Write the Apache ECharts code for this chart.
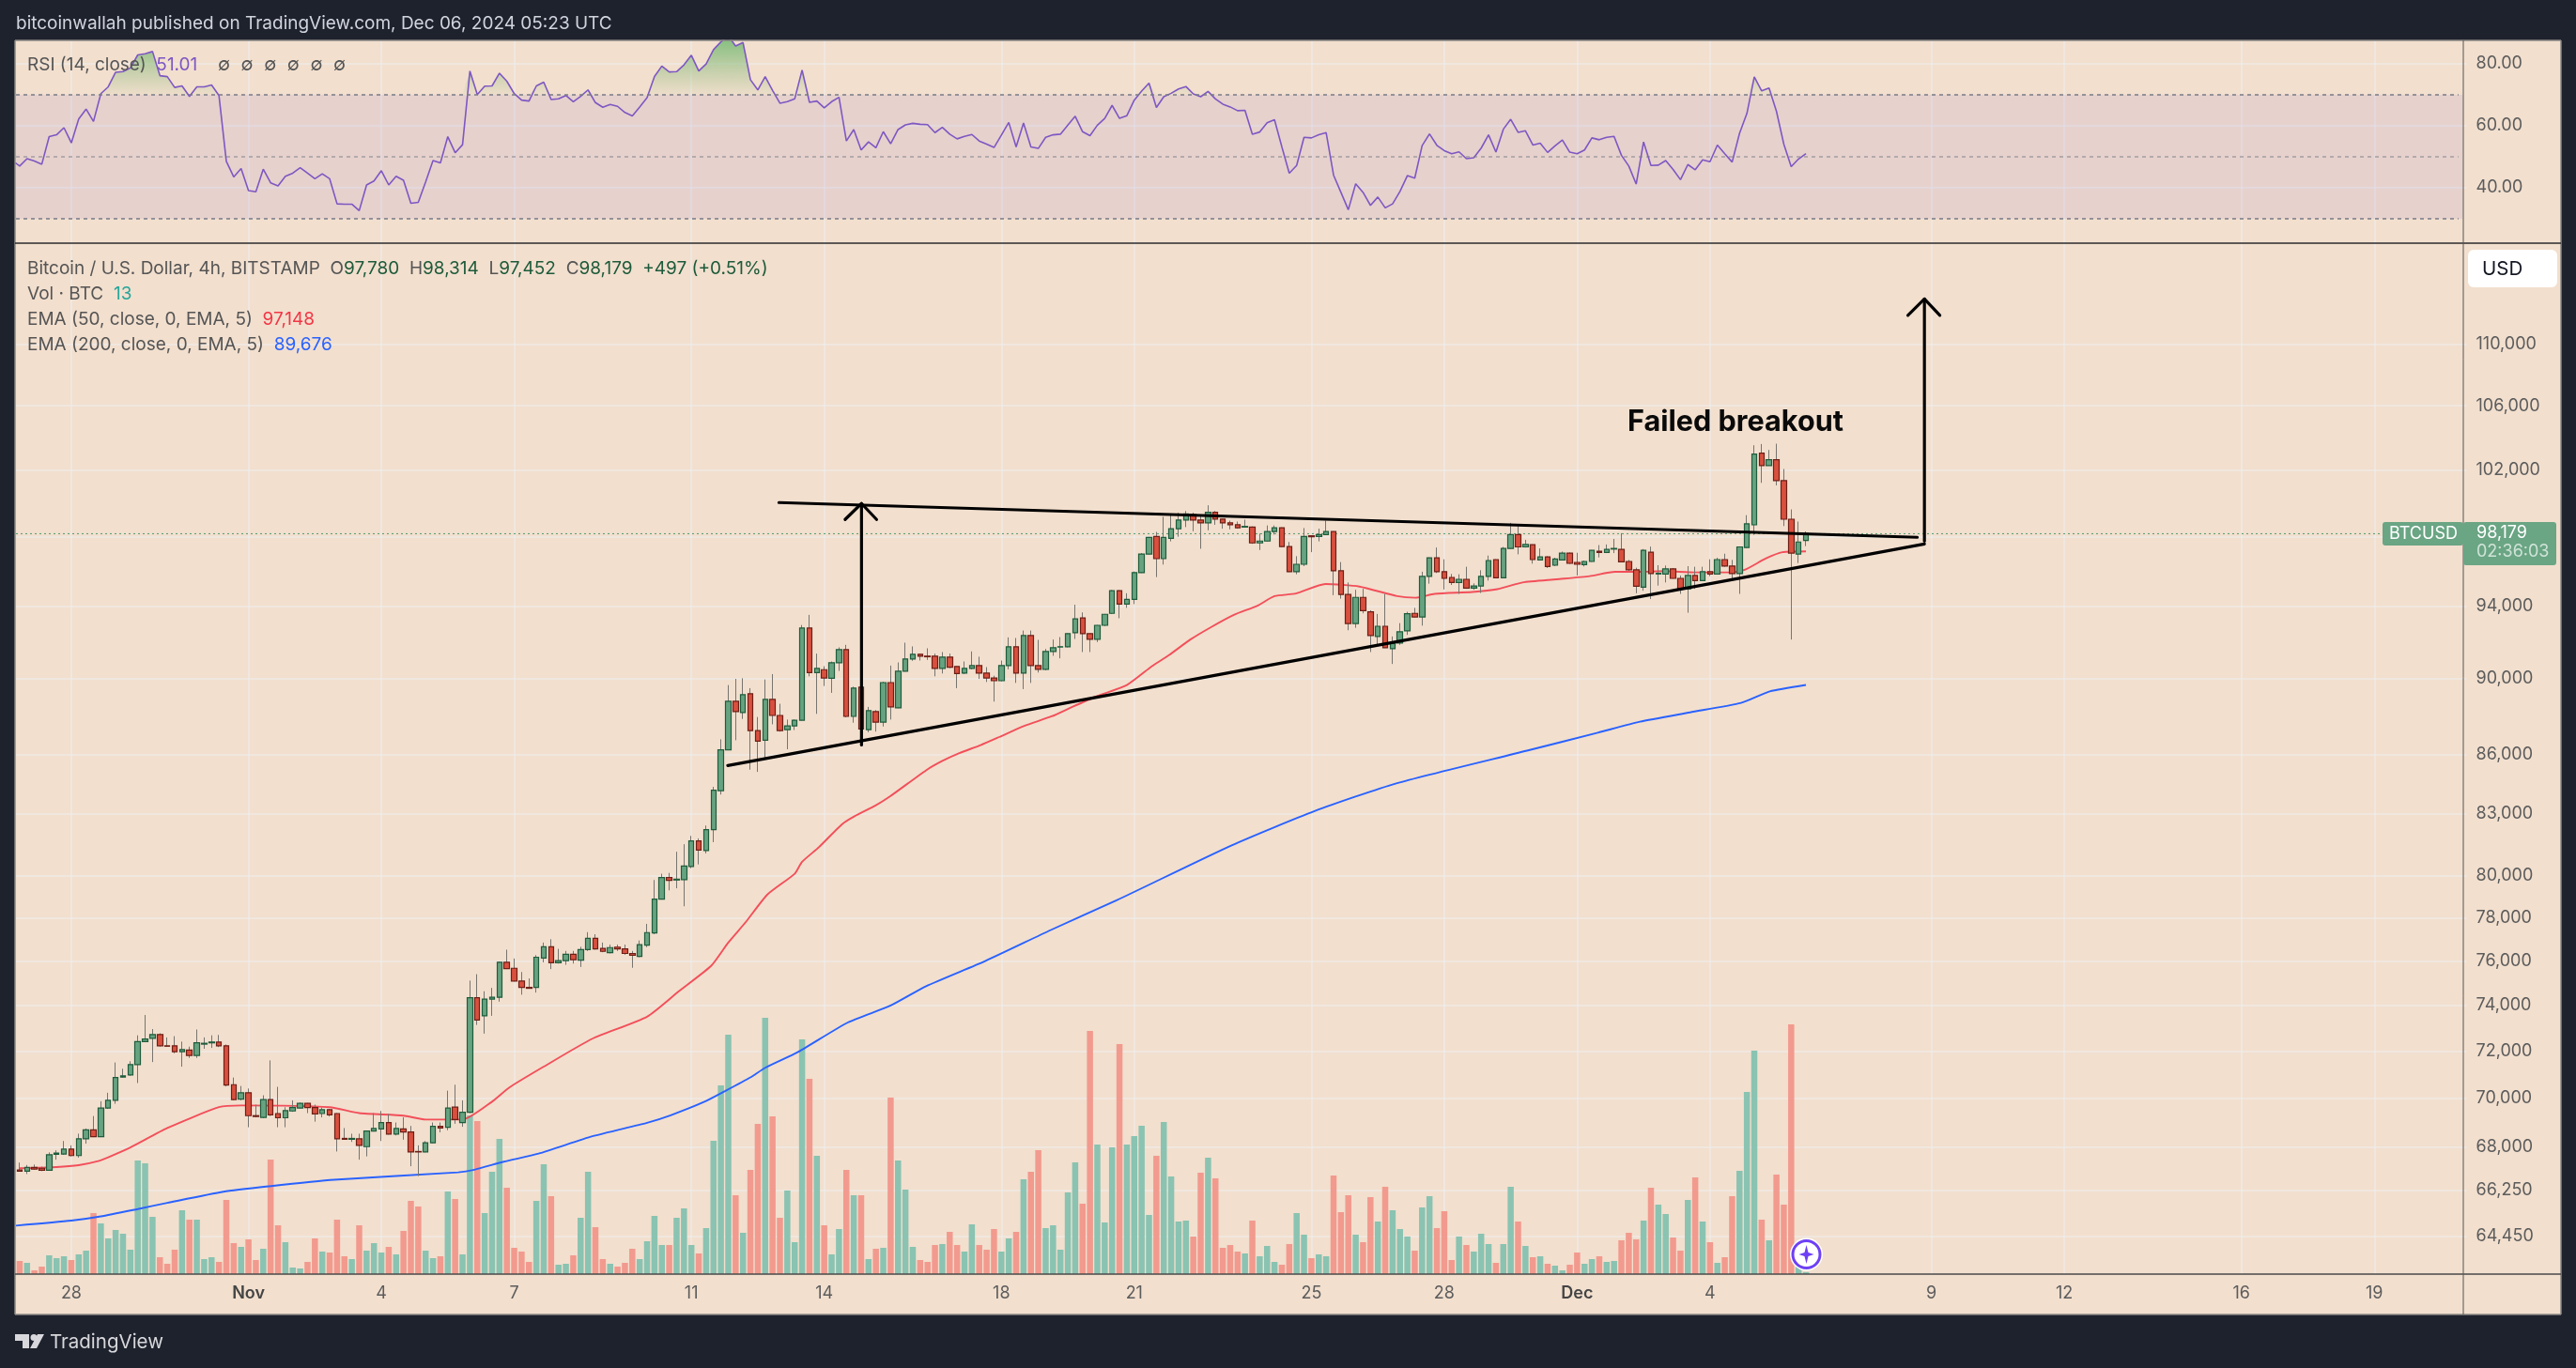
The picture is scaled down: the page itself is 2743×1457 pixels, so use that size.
<!DOCTYPE html>
<html><head><meta charset="utf-8">
<style>html,body{margin:0;padding:0;background:#1e222d}#c{width:2743px;height:1457px}</style>
<script src="https://cdn.jsdelivr.net/npm/echarts@6/dist/echarts.min.js"></script>
</head><body><div id="c"></div>
<script>
// open, close, low, high
const candles=[
[67060,67010,67010,67355],[67010,67158,66895,67257],[67158,67093,67060,67273],[67125,67043,67010,67190],[67043,67670,67027,67769],
[67687,67736,67472,67851],[67703,67901,67670,68230],[67901,67637,67604,68053],[67637,68320,67555,68530],[68320,68690,68124,68744],
[68690,68407,68390,69257],[68407,69593,68390,69876],[69593,69912,69558,70232],[69912,70875,69770,71518],[70893,70946,70875,71250],
[70982,71428,70946,71571],[71428,72418,70643,72691],[72418,72527,72400,73582],[72564,72727,71536,72964],[72727,72236,72200,72782],
[72236,72218,72200,72600],[72236,71982,71911,72655],[71982,72073,71339,72418],[72055,71821,71714,72200],[71821,72364,71714,72945],
[72309,72345,72109,72600],[72364,72400,72145,72691],[72400,72236,72182,72709],[72236,70554,70500,72291],[70572,69947,69912,70875],
[69965,70232,69912,70518],[70232,69275,68796,70411],[69275,69240,69204,69735],[69204,69947,69169,70125],[69947,69310,69257,71607],
[69363,69186,68796,70482],[69186,69487,68796,69628],[69470,69610,69434,69912],[69593,69788,69575,69823],[69788,69610,69380,69806],
[69610,69345,69026,69735],[69363,69522,69204,69610],[69522,69310,69240,69558],[69363,68320,67802,69380],[68337,68302,68283,68762],
[68302,68337,68195,68530],[68320,68053,67472,68530],[68000,68637,67604,68655],[68637,68744,68620,69380],[68726,68991,68230,69470],
[68991,68513,68495,69345],[68513,68744,68460,68991],[68726,68602,68283,69204],[68602,67785,67208,68850],[67802,67785,66812,68053],
[67785,68160,67769,68230],[68160,68832,68142,68991],[68832,68761,68584,68991],[68796,69593,68672,70320],[69628,69115,68938,70572],
[68991,69416,68814,69912],[69416,74346,69380,75115],[74346,73364,73145,75404],[73545,74288,72764,74635],[74288,74365,73545,74788],
[74365,75942,74173,75981],[75942,75654,75635,76519],[75673,75096,75077,76115],[75096,74808,74481,75500],[74808,74769,74750,75212],
[74808,76173,74577,76269],[76135,76654,75942,76846],[76654,75923,75635,77000],[75923,76019,75885,76558],[76019,76308,75827,76462],
[76308,76058,75885,76462],[76038,76519,75731,76654],[76519,77038,76462,77327],[77038,76558,76519,77231],[76577,76442,76404,76846],
[76385,76615,76346,76750],[76635,76558,76462,76750],[76558,76346,76288,76750],[76346,76269,75692,76462],[76212,76750,76173,76942],
[76731,77308,76635,77712],[77288,78871,77231,79782],[78871,79901,78852,80082],[79901,79762,79287,80122],[79782,79822,79386,81143],
[79802,80449,78535,81510],[80428,81674,80347,81919],[81674,81225,80531,81796],[81204,82225,81062,82429],[82225,84190,81612,84360],
[84165,86249,83973,86800],[86249,88800,86249,89667],[88800,88250,86750,90000],[88200,89150,87866,90034],[89200,87250,85234,89500],
[87250,86700,85122,87966],[86750,88900,85840,89966],[88900,88050,87583,90258],[88050,87250,87200,88666],[87300,87500,86283,87833],
[87500,87800,87283,87833],[87800,92781,87783,92953],[92781,90343,90137,93519],[90343,90566,88133,91373],[90497,90051,89617,90686],
[90034,90875,89250,90944],[90875,91596,90429,91716],[91596,88000,87950,91854],[88000,89500,87666,89583],[89550,87333,86500,89600],
[87300,88300,87166,88500],[88250,87700,87200,88333],[87700,89800,87466,89850],[89800,88500,87833,90720],[88450,90412,88430,90892],
[90412,91081,90395,91974],[91081,91339,90978,91768],[91339,91236,90995,91373],[91236,91202,91030,91665],[91236,90566,90137,91373],
[90566,91184,90292,91459],[91184,90635,90583,91373],[90669,90292,89500,90686],[90309,90566,90258,90944],[90566,90720,90515,91493],
[90720,90309,90000,91202],[90309,90051,89833,90635],[90051,89900,88783,90171],[89900,90720,89866,90995],[90720,91751,90515,92266],
[91751,90309,89783,92232],[90309,92369,89450,92644],[92369,90720,89783,92644],[90720,90515,90343,92128],[90515,91493,90463,91631],
[91493,91699,91253,92146],[91734,91751,91115,92283],[91751,92472,91716,92489],[92523,93296,92180,94090],[93348,92472,91459,93657],
[92472,92163,91459,92489],[92163,92935,92008,92953],[92935,93553,92884,93571],[93605,94882,93571,94918],[94882,94126,93330,94918],
[94126,94396,93914,94738],[94396,95912,94126,95984],[95912,96992,95894,97046],[96992,97964,96974,97990],[98019,96722,95660,98285],
[96722,97964,96380,99181],[97910,98476,97730,99333],[98476,98990,98000,99428],[98990,99352,98571,99523],[99314,98990,98324,99428],
[98990,98819,97298,99238],[98819,99447,98381,99866],[99447,99047,98705,99523],[99047,98819,98476,99066],[98819,98705,98438,98952],
[98705,98533,98476,98895],[98571,98610,98552,99009],[98571,97640,97586,98610],[97640,97748,97226,98190],[97748,98305,97730,98667],
[98305,98533,98133,98667],[98533,97424,97406,98552],[97424,95966,95948,97694],[95966,96398,95822,96866],[96398,98019,96290,98514],
[98057,98000,97100,98076],[98019,98133,97730,98476],[98133,98305,98100,98952],[98305,96020,94630,98324],[96020,94666,94432,96524],
[94666,93038,92661,95354],[93038,94504,92798,94936],[94504,93760,93605,94990],[93691,92369,91459,93777],[92317,92884,91785,93571],
[92884,91699,91682,94702],[91648,91940,90807,92317],[91957,92575,91854,93056],[92626,93588,92403,93691],[93605,93399,93382,93914],
[93399,95696,92918,95966],[95696,96776,95282,96794],[96776,95966,95894,97370],[95966,95588,94954,96686],[95642,95354,95210,95840],
[95354,95534,94702,95822],[95534,95030,94990,96254],[95030,95156,94936,95300],[95156,95696,94756,96056],[95696,96614,95462,96902],
[96668,95624,95606,96686],[95624,97316,95606,97406],[97316,98133,97298,98819],[98133,97406,96974,98705],[97406,97550,97370,97820],
[97532,96668,96434,97550],[96650,96830,96650,97316],[96830,96272,96182,96866],[96344,96704,96290,96776],[96650,97046,96614,97136],
[97046,96452,96416,97082],[96506,96398,95750,97064],[96380,96560,96272,96614],[96560,97208,96542,97226],[97154,97082,96794,97514],
[97082,97262,97046,97550],[97280,97316,97046,97874],[97262,96542,96506,98210],[96560,96074,96020,96650],[96074,95138,94738,96200],
[95084,97208,94882,97280],[97100,95858,94414,97424],[95840,95876,95174,96344],[95840,96128,95354,96326],[96128,95588,95570,96182],
[95588,94972,94702,95750],[94990,95750,93639,96290],[95750,95462,94990,96254],[95462,95966,95426,96254],[95966,95840,95714,96686],
[95840,96668,95804,96776],[96668,96290,96254,97010],[96290,95858,95534,96650],[95858,97406,94702,97424],[97370,98762,97334,99276],
[98703,102982,98116,103524],[103041,102268,101218,103600],[102268,102636,102268,103232],[102636,101350,101065,103620],[101350,99037,98631,102060],
[99037,97046,92146,99619],[96992,97694,96470,98895],[97780,98179,97452,98314]];
const volumes=[84,72,24,48,120,102,114,90,126,150,390,324,228,282,258,156,726,708,366,108,66,156,408,348,348,96,108,78,474,198,174,222,90,162,732,312,204,42,36,78,228,144,138,348,114,96,312,150,198,138,174,126,276,468,432,150,102,114,528,480,126,1014,978,390,654,864,552,168,144,78,468,702,498,60,66,120,360,654,300,96,66,48,72,162,96,210,372,186,186,360,420,186,132,294,852,1206,1530,504,264,666,960,1638,1008,360,534,204,1500,1248,756,312,126,288,666,504,504,96,162,168,1128,726,540,174,90,78,186,192,270,186,144,318,186,156,288,144,228,270,606,654,792,294,312,156,522,714,450,1554,828,330,810,1470,828,882,948,378,756,972,624,336,342,240,648,744,612,168,186,144,132,342,114,180,78,60,192,390,252,102,126,114,630,396,504,252,204,492,336,558,408,288,240,150,426,498,294,402,90,240,186,144,258,192,72,192,558,336,180,108,114,66,54,24,60,138,66,96,114,78,84,216,264,222,342,552,444,384,234,150,474,618,336,204,72,108,498,660,1164,1428,348,216,636,444,1596,120,13];
const rsi=[47.0,49.4,48.6,47.6,56.5,57.1,59.4,54.5,62.2,65.4,61.4,70.4,72.6,77.3,77.5,78.7,82.9,83.3,84.0,76.2,75.9,72.4,72.9,69.5,72.6,72.6,73.2,69.8,48.5,43.5,46.2,39.1,38.7,46.0,41.6,40.6,43.7,44.7,46.5,44.7,42.9,44.5,42.9,34.8,34.7,34.7,32.6,40.9,42.2,45.5,40.9,43.7,42.4,35.0,35.3,41.9,48.8,48.0,56.5,51.3,53.9,77.7,70.1,72.8,72.9,77.0,74.4,70.4,68.3,68.0,72.9,74.1,68.5,68.7,69.8,67.8,69.5,71.6,67.5,66.0,66.9,66.3,64.3,63.2,66.1,69.1,75.9,79.3,77.4,77.5,79.7,82.8,77.7,80.0,84.6,87.1,89.0,85.8,86.9,74.9,71.6,75.9,71.4,67.3,67.8,68.7,78.0,67.6,68.0,65.8,67.8,69.2,55.1,58.8,52.2,54.8,52.9,58.1,54.2,58.8,60.3,60.8,60.5,60.4,57.8,59.5,57.3,55.8,56.6,57.2,55.1,54.1,53.0,57.0,61.1,53.2,60.9,53.2,52.7,56.3,57.1,57.3,60.2,63.1,58.1,56.8,60.2,62.4,66.6,62.4,63.3,68.3,71.2,73.8,65.9,69.4,70.5,71.9,72.7,70.3,69.4,71.1,68.7,67.0,66.1,64.9,65.0,57.3,58.0,61.0,62.0,53.2,44.7,47.2,56.3,56.1,57.1,57.8,44.1,38.5,32.9,41.3,38.5,34.3,37.0,33.5,34.8,38.8,43.9,43.1,53.6,57.4,53.7,52.0,51.0,51.6,49.4,49.7,52.8,57.1,51.5,58.9,62.1,57.9,58.4,53.8,54.4,51.4,53.5,55.4,51.5,51.0,52.2,56.1,55.5,56.3,56.6,50.5,47.0,41.2,54.8,47.2,47.3,48.8,45.9,42.6,47.5,45.8,49.0,48.4,53.8,51.0,48.3,57.6,64.0,75.8,71.3,72.2,64.7,54.1,46.8,49.3,51.01];
const rsiBeforeFirst=[-0.6,48.1];
// [bar index, price] read along each average
const ema50=[[0,67125],[5,67175],[8,67250],[10.5,67406],[12,67571],[15,67967],[20,68762],[27,69628],[30,69699],[42,69628],[46,69380],[52,69275],[55,69115],[60,69115],[64,69858],[66.3,70446],[71,71339],[77.6,72545],[85,73509],[89.3,74635],[93.7,75788],[96,76846],[98.4,77808],[101.3,79089],[105,80082],[106,80653],[108.3,81372],[111.4,82489],[113.1,82888],[115.9,83415],[117.9,83877],[122.8,85202],[125,85681],[127.3,86083],[130.2,86500],[132.7,86917],[136.1,87500],[139.8,88000],[142.6,88500],[146,89083],[150,89667],[153.4,90687],[155.7,91288],[158.6,92146],[161.4,92833],[164.5,93519],[167.7,94036],[170,94576],[172.9,94720],[176.9,95264],[181.5,95120],[186.6,94576],[189.1,94486],[191.7,94702],[196.8,94810],[200.2,94972],[203.6,95354],[208.2,95534],[212.7,95714],[216.1,95966],[219.5,95966],[222.9,96002],[226.9,95930],[232,95930],[233.7,96074],[236.6,96740],[238.8,97100],[242,97148]];
const ema200=[[-0.5,64857],[7,65051],[11,65217],[16,65505],[20,65746],[27.6,66189],[33.8,66405],[42.6,66666],[59.4,66962],[61.6,67067],[65.6,67390],[70.3,67716],[77.6,68424],[85,68980],[88.2,69292],[92.7,69843],[95.5,70292],[99,70880],[101,71292],[105.4,71960],[112.2,73253],[118,74000],[122.8,74864],[130.8,76000],[139.7,77427],[148.6,78816],[164.2,81455],[175.5,83155],[186.5,84538],[204.2,86210],[213.8,87143],[219.5,87719],[226.3,88213],[233.2,88713],[237.1,89328],[242,89676]];
const lastPrice=98179;
const rsiLevels=[70,50,30];
const rsiTicks=[80,60,40];
const priceTicks=[110000,106000,102000,98000,94000,90000,86000,83000,80000,78000,76000,74000,72000,70000,68000,66250,64450];
// category slot -> date label (4h bars, first bar Oct 26 20:00)
const dateTicks={7:'28',31:'Nov',49:'4',67:'7',91:'11',109:'14',133:'18',151:'21',175:'25',193:'28',211:'Dec',229:'4',259:'9',277:'12',301:'16',319:'19'};
const slotCount=332;
// drawings: [bar index, price]
const topTrend=[[102.86,100029],[257.08,97968]];
const lowTrend=[[95.93,85447],[258.05,97581]];
const measureShaft=[[114.05,86507],[114.05,99973]];
const measureHead=[[111.83,99021],[114.05,99973],[116.09,99021]];
const targetShaft=[[258.05,97747],[258.05,113007]];
const targetHead=[[255.81,111905],[258.05,113007],[260.14,111905]];

const FONT='Inter';
const BG='#f2dfce',GRID='rgba(238,238,240,0.72)';
const UP='#67a381',UPB='#1f5c3c',DN='#d9503f',DNB='#6e1f16',WICK='#77756f',VUP='#8ac3b1',VDN='#f29a8e';
const cats=Array.from({length:slotCount},(_,i)=>String(i));
const isTick=i=>dateTicks[i]!==undefined;
const bodies=candles.map(([o,c])=>[o,c,Math.min(o,c),Math.max(o,c)]);
const volData=volumes.map((v,i)=>({value:v,itemStyle:{color:candles[i][1]>=candles[i][0]?VUP:VDN}}));
const rsiPts=[rsiBeforeFirst].concat(rsi.map((v,i)=>[i,v]));
const overPts=rsi.map((v,i)=>[i,Math.max(v,70)]);
const draw=(name,data,w)=>({name,type:'line',xAxisIndex:2,yAxisIndex:1,data,symbol:'none',silent:true,z:7,clip:false,
  lineStyle:{color:'#000',width:w||3.2,cap:'round',join:'round'}});
const GX={left:17,width:2609.5};

const LF=19;
const rs=c=>({fontFamily:FONT,fontSize:LF,fill:c});
const legendRich={t:rs('#555555'),g:rs('#1d5a3a'),p:rs('#7e57c2'),v:rs('#26a69a'),r:rs('#f23645'),b:rs('#2962ff'),n:rs('#555555')};
const txt=(x,y,text,extra)=>({type:'text',x,y,z:50,silent:true,style:Object.assign({text,fill:'#555',font:LF+'px '+FONT,verticalAlign:'middle',rich:legendRich},extra||{})});
const rect=(x,y,w,h,fill,z,r)=>({type:'rect',silent:true,z:z,shape:{x,y,width:w,height:h,r:r||0},style:{fill}});
const hline=(x1,y1,x2,y2,c,z,lw)=>({type:'line',silent:true,z:z,shape:{x1,y1,x2,y2},style:{stroke:c,lineWidth:lw||1}});

const graphics=[
  rect(16,43,2711,1357,BG,-10),
  hline(16,43,2727,43,'#8b8884',40,1.5),hline(16,1400,2727,1400,'#8b8884',40,1.5),
  hline(16,43,16,1400,'#8b8884',40,1.5),hline(2727,43,2727,1400,'#8b8884',40,1.5),
  hline(16,259,2727,259,'#2b2b2b',40,1.5),hline(16,1357,2727,1357,'#4a4a4a',40,1.5),
  hline(2623,43,2623,1400,'#555',40,1),
  txt(17,25,'bitcoinwallah published on TradingView.com, Dec 06, 2024 05:23 UTC',{fill:'#d1d4dc',font:'19px '+FONT}),
  txt(29,69,'{t|RSI (14, close)}  {p|51.01}'),
  txt(232,69,'∅'),txt(256.6,69,'∅'),txt(281.2,69,'∅'),txt(305.8,69,'∅'),txt(330.4,69,'∅'),txt(355,69,'∅'),
  txt(29,286,'{t|Bitcoin / U.S. Dollar, 4h, BITSTAMP}  {t|O}{g|97,780}  {t|H}{g|98,314}  {t|L}{g|97,452}  {t|C}{g|98,179}  {g|+497 (+0.51%)}'),
  txt(29,313,'{t|Vol · BTC}  {v|13}'),
  txt(29,340,'{t|EMA (50, close, 0, EMA, 5)}  {r|97,148}'),
  txt(29,367,'{t|EMA (200, close, 0, EMA, 5)}  {b|89,676}'),
  txt(1733,450,'Failed breakout',{fill:'#0a0a0a',font:'bold 30.6px '+FONT}),
  rect(2628,266,95,40,'#ffffff',45,6),
  txt(2643,287,'USD',{fill:'#131722',font:'20.5px '+FONT}),
  rect(2537,556,86,25,'#6aa584',45,3),
  rect(2623,556,99,46,'#6aa584',45,3),
  txt(2544,569,'BTCUSD',{fill:'#ffffff',font:'18px '+FONT}),
  txt(2637,568,'98,179',{fill:'#ffffff',font:'18px '+FONT}),
  txt(2637,588,'02:36:03',{fill:'#cfe3d7',font:'18px '+FONT}),
  {type:'circle',silent:true,z:46,shape:{cx:1923.5,cy:1336,r:17.5},style:{fill:'#ffffff'}},
  {type:'circle',silent:true,z:47,shape:{cx:1923.5,cy:1336,r:14.5},style:{fill:'#ffffff',stroke:'#6e40f5',lineWidth:3}},
  {type:'polygon',silent:true,z:48,shape:{points:[[1923.5,1326],[1925.5,1334],[1931.5,1336],[1925.5,1338],[1923.5,1346],[1921.5,1338],[1915.5,1336],[1921.5,1334]]},style:{fill:'#6e40f5'}},
  {type:'polygon',silent:true,z:48,shape:{points:[[16,1421],[31,1421],[31,1436],[24,1436],[24,1428],[16,1428]]},style:{fill:'#d8d8dc'}},
  {type:'circle',silent:true,z:48,shape:{cx:36,cy:1424.5,r:3.5},style:{fill:'#d8d8dc'}},
  {type:'polygon',silent:true,z:48,shape:{points:[[39,1436],[47,1421],[40,1421],[32,1436]]},style:{fill:'#d8d8dc'}},
  txt(53,1430,'TradingView',{fill:'#d8d8dc',font:'20.5px '+FONT})
];

const option={
  animation:false,backgroundColor:'#1e222d',
  grid:[
    {left:GX.left,width:GX.width,top:43,height:216},
    {left:GX.left,width:GX.width,top:259,height:1098}
  ],
  xAxis:[
    {type:'category',gridIndex:1,data:cats,boundaryGap:true,axisLine:{show:false},axisTick:{show:false,alignWithLabel:true,interval:(i)=>isTick(i)},
      axisLabel:{interval:(i)=>isTick(i),margin:12,color:'#5c5c5c',fontFamily:FONT,fontSize:18,hideOverlap:false,
        formatter:(v,i)=>{const s=dateTicks[i];return s==='Nov'||s==='Dec'?'{b|'+s+'}':(s||'');},rich:{b:{color:'#444',fontWeight:600,fontFamily:FONT,fontSize:18}}},
      splitLine:{show:true,interval:(i)=>isTick(i),alignWithLabel:true,lineStyle:{color:GRID,width:1.5}}},
    {type:'category',gridIndex:0,data:cats,boundaryGap:true,axisLine:{show:false},axisTick:{show:false},axisLabel:{show:false},
      splitLine:{show:true,interval:(i)=>isTick(i),alignWithLabel:true,lineStyle:{color:GRID,width:1.5}}},
    {type:'value',gridIndex:1,min:-0.5,max:slotCount-0.5,show:false},
    {type:'value',gridIndex:0,min:-0.5,max:slotCount-0.5,show:false}
  ],
  yAxis:[
    {type:'value',gridIndex:0,position:'right',min:22.1,max:87.6,axisLine:{show:false},
      axisTick:{show:false,customValues:rsiTicks},
      axisLabel:{customValues:rsiTicks,margin:10,color:'#5c5c5c',fontFamily:FONT,fontSize:18,formatter:v=>v.toFixed(2)},
      splitLine:{show:true,lineStyle:{color:GRID,width:1.5}}},
    {type:'log',logBase:10,gridIndex:1,position:'right',min:63000,max:116850,axisLine:{show:false},
      axisTick:{show:false,customValues:priceTicks},
      axisLabel:{customValues:priceTicks,margin:10,color:'#5c5c5c',fontFamily:FONT,fontSize:18,hideOverlap:false,showMinLabel:true,showMaxLabel:true,
        formatter:v=>Math.round(v).toLocaleString('en-US')},
      splitLine:{show:true,lineStyle:{color:GRID,width:1.5}}},
    {type:'value',gridIndex:1,min:0,max:6588,show:false,splitLine:{show:false}}
  ],
  series:[
    {name:'RSI band',type:'line',xAxisIndex:3,yAxisIndex:0,data:[],silent:true,z:1,
      markArea:{silent:true,itemStyle:{color:'rgba(126,87,194,0.1)'},data:[[{coord:[-0.5,rsiLevels[0]]},{coord:[331,rsiLevels[2]]}]]},
      markLine:{silent:true,symbol:'none',label:{show:false},animation:false,
        data:rsiLevels.map((lv,k)=>[{coord:[-0.5,lv],lineStyle:{color:k===1?'rgba(120,123,134,0.6)':'#787b86',type:[4,4],width:1.5}},{coord:[330.4,lv]}])}},
    {name:'RSI over',type:'line',xAxisIndex:3,yAxisIndex:0,data:overPts,symbol:'none',silent:true,z:2,
      lineStyle:{width:0},areaStyle:{origin:70,opacity:1,color:{type:'linear',global:true,x:0,y:101,x2:0,y2:43,colorStops:[{offset:0,color:'rgba(150,190,130,0.05)'},{offset:1,color:'rgba(130,190,125,0.95)'}]}}},
    {name:'RSI',type:'line',xAxisIndex:3,yAxisIndex:0,data:rsiPts,symbol:'none',silent:true,z:3,lineStyle:{color:'#7e57c2',width:1.6}},
    {name:'Volume',type:'bar',xAxisIndex:0,yAxisIndex:2,data:volData,barWidth:6.5,silent:true,z:1},
    {name:'EMA 200',type:'line',xAxisIndex:2,yAxisIndex:1,data:ema200,symbol:'none',smooth:0.2,silent:true,z:2,lineStyle:{color:'#2962ff',width:1.9}},
    {name:'EMA 50',type:'line',xAxisIndex:2,yAxisIndex:1,data:ema50,symbol:'none',smooth:0.2,silent:true,z:2,lineStyle:{color:'#f23645',width:1.9,opacity:.85}},
    {name:'Last price',type:'line',xAxisIndex:2,yAxisIndex:1,data:[[-0.5,lastPrice],[331,lastPrice]],symbol:'none',silent:true,z:2,lineStyle:{color:'#4f9e72',width:1,type:[2,3]}},
    {name:'Wicks',type:'candlestick',xAxisIndex:0,yAxisIndex:1,data:candles,barWidth:1,silent:true,z:4,
      itemStyle:{color:WICK,color0:WICK,borderColor:WICK,borderColor0:WICK,borderWidth:1}},
    {name:'Bodies',type:'candlestick',xAxisIndex:0,yAxisIndex:1,data:bodies,barWidth:6,silent:true,z:5,
      itemStyle:{color:UP,color0:DN,borderColor:UPB,borderColor0:DNB,borderWidth:1.2}},
    draw('Top trend',topTrend),draw('Low trend',lowTrend),
    draw('Measure',measureShaft),draw('Measure head',measureHead),
    draw('Target',targetShaft),draw('Target head',targetHead)
  ],
  graphic:{elements:graphics}
};
const chart=echarts.init(document.getElementById('c'),null,{width:2743,height:1457,renderer:'canvas'});
chart.setOption(option);
</script></body></html>
